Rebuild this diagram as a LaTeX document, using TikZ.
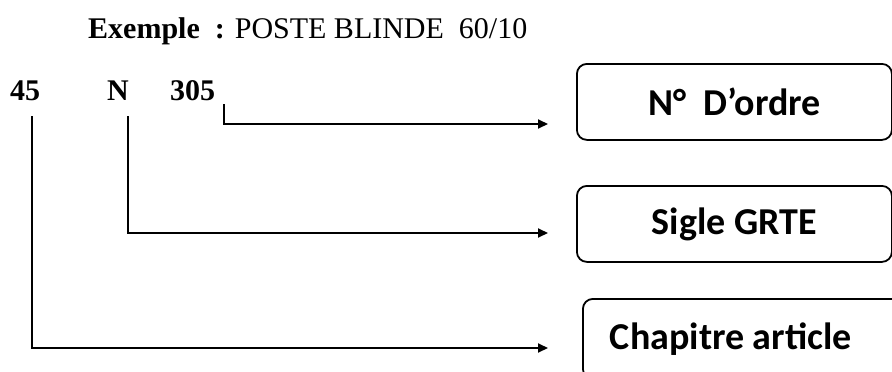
\documentclass[tikz,border=0pt]{standalone}
\usepackage{fontspec}
\setmainfont{Liberation Serif}
\newfontfamily\boxfont{Carlito}
\usetikzlibrary{arrows.meta,positioning}

\tikzset{
  code/.style={font=\fontsize{30}{34}\selectfont\bfseries, inner sep=0pt, anchor=base west},
  champ/.style={draw, line width=1.8pt, rounded corners=10pt, minimum height=76pt,
    anchor=north west, inner sep=0pt, font=\boxfont\fontsize{38}{42}\selectfont\bfseries},
  lien/.style={line width=2pt, -{Triangle[length=10pt,width=9pt]}},
}

\begin{document}
\begin{tikzpicture}[x=1pt,y=-1pt]
  \path[use as bounding box, clip] (0,0) rectangle (892,372);

  % titre
  \node[inner sep=0pt, anchor=base west, font=\fontsize{30}{34}\selectfont] (titre) at (88,38)
    {\textbf{Exemple\ \ :} POSTE BLINDE\ \ 60/10};

  % code du poste
  \node[code] (c45) at (10,100) {45};
  \node[code] (cN) at (107,100) {N};
  \node[code] (c305) at (170,100) {305};

  % cases
  \node[champ, minimum width=315pt] (ordre) at (576,63) {N°\ \ D’ordre};
  \node[champ, minimum width=315pt] (sigle) at (576,185) {Sigle GRTE};
  \node[champ, minimum width=330pt, minimum height=80pt] (chap) at (582,298) {Chapitre article\hspace*{34pt}};

  % departs et bouts des fleches
  \coordinate (d305) at (224,104);
  \coordinate (dN) at (128,116);
  \coordinate (d45) at (32,116);
  \coordinate (f305) at (548,124);
  \coordinate (fN) at (548,233);
  \coordinate (f45) at (548,348);

  \draw[lien] (d305) |- (f305);
  \draw[lien] (dN) |- (fN);
  \draw[lien] (d45) |- (f45);
\end{tikzpicture}
\end{document}
